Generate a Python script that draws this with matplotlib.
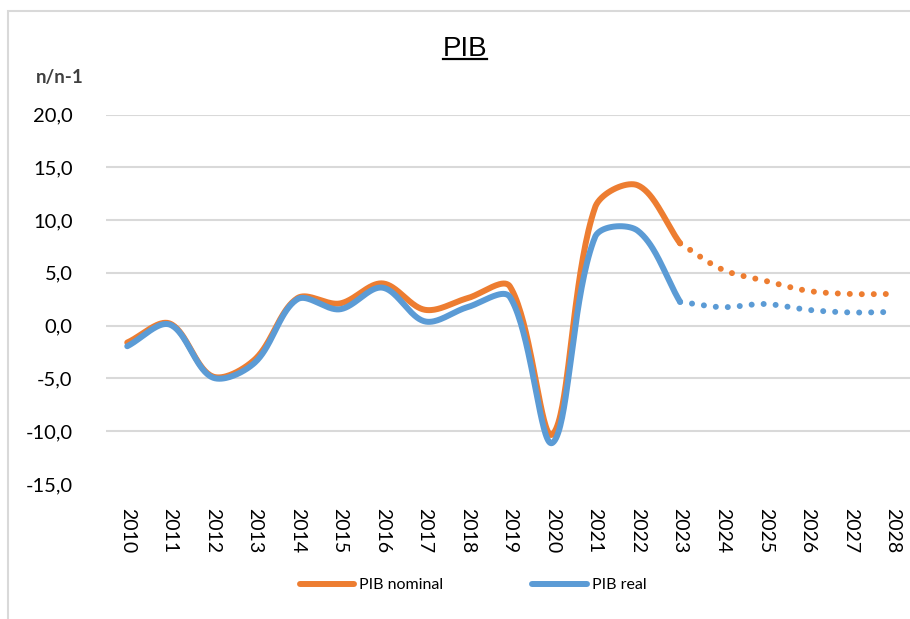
import numpy as np
import matplotlib
matplotlib.use('Agg')
import matplotlib.pyplot as plt
from matplotlib.lines import Line2D
from matplotlib.patches import Rectangle

# values (growth n/n-1, %)
years = list(range(2010, 2029))
hist_years = years[:14]          # 2010 - 2023, solid
proj_years = years[13:]          # 2023 - 2028, dotted
nominal_hist = [-1.6, 0.2, -4.8, -3.2, 2.6, 2.1, 4.0, 1.5, 2.6, 3.7, -10.3, 11.2, 13.3, 7.8]
real_hist = [-1.95, 0.1, -4.9, -3.5, 2.5, 1.55, 3.6, 0.4, 1.75, 2.7, -11.1, 8.4, 9.0, 2.25]
nominal_proj = [7.8, 5.3, 4.25, 3.3, 3.0, 3.0]
real_proj = [2.25, 1.75, 2.05, 1.5, 1.25, 1.3]
y_ticks = [-15, -10, -5, 0, 5, 10, 15, 20]

ORANGE = '#ED7D31'
BLUE = '#5B9BD5'
GRID = '#D9D9D9'

plt.rcParams['font.family'] = ['Lato', 'DejaVu Sans']

W, H = 910, 619
fig = plt.figure(figsize=(W / 100, H / 100), dpi=100)
ax = fig.add_axes([106 / W, 1 - 484 / H, 808 / W, (484 - 114.5) / H])
ax.set_xlim(years[0] - 0.5, years[-1] + 0.5)
ax.set_ylim(-15, 20)


def smooth(xs, ys, n=40):
    # Excel-like smoothed line: Bezier segments, control arms scaled by chord length (screen space)
    pts = ax.transData.transform(np.column_stack([xs, ys]))
    N = len(pts)
    t = np.linspace(0, 1, n)[:, None]
    out = []
    for i in range(N - 1):
        p0 = pts[i - 1] if i > 0 else pts[i]
        p1, p2 = pts[i], pts[i + 1]
        p3 = pts[i + 2] if i + 2 < N else pts[i + 1]
        d01 = np.linalg.norm(p1 - p0)
        d12 = np.linalg.norm(p2 - p1)
        d23 = np.linalg.norm(p3 - p2)
        c1 = p1 + (p2 - p0) * d12 / (d01 + d12) / 3
        c2 = p2 - (p3 - p1) * d12 / (d12 + d23) / 3
        seg = ((1 - t) ** 3) * p1 + 3 * ((1 - t) ** 2) * t * c1 + 3 * (1 - t) * t ** 2 * c2 + t ** 3 * p2
        out.append(seg if i == 0 else seg[1:])
    curve = ax.transData.inverted().transform(np.vstack(out))
    return curve[:, 0], curve[:, 1]


lw = 4.3
dots = (0, (0.01, 2.0))
for yrs_h, vals_h, vals_p, col in [(hist_years, nominal_hist, nominal_proj, ORANGE),
                                   (hist_years, real_hist, real_proj, BLUE)]:
    sx, sy = smooth(yrs_h, vals_h)
    ax.plot(sx, sy, color=col, lw=lw, solid_capstyle='round', solid_joinstyle='round')
    px, py = smooth(proj_years, vals_p)
    ax.plot(px, py, color=col, lw=lw, linestyle=dots, dash_capstyle='round')

# axes styling
for s in ax.spines.values():
    s.set_visible(False)
ax.set_yticks(y_ticks)
ax.set_yticklabels([f"{v:.1f}".replace('.', ',') for v in y_ticks], fontsize=14.5)
ax.set_xticks(years)
ax.set_xticklabels([str(y) for y in years], rotation=270, fontsize=14)
ax.tick_params(axis='y', length=0, pad=24)
ax.tick_params(axis='x', length=0, pad=17)
ax.yaxis.grid(True, color=GRID, lw=1.5)
ax.set_axisbelow(True)
ax.yaxis.get_gridlines()[0].set_visible(False)

# title with underline
title = fig.text(465 / W, 1 - 56 / H, 'PIB', fontsize=20, ha='center', va='baseline',
                 family='Liberation Sans')
fig.canvas.draw()
bb = title.get_window_extent(fig.canvas.get_renderer())
fig.add_artist(Line2D([bb.x0 / W, bb.x1 / W], [1 - 59 / H, 1 - 59 / H], color='black', lw=1.6))

fig.text(60 / W, 1 - 78 / H, 'n/n-1', fontsize=13.5, fontweight='bold', ha='center', va='center',
         color='#404040')

# legend
handles = [Line2D([], [], color=ORANGE, lw=lw, solid_capstyle='round'),
           Line2D([], [], color=BLUE, lw=lw, solid_capstyle='round')]
fig.legend(handles, ['PIB nominal', 'PIB real'], loc='center', bbox_to_anchor=(473 / W, 1 - 585 / H),
           ncol=2, frameon=False, fontsize=11.5, handlelength=3.4, handletextpad=0.3, columnspacing=5.6)

# chart area border
fig.add_artist(Rectangle((7.5 / W, -0.05), 1.1, 1 - 10.5 / H + 0.05, transform=fig.transFigure,
                         fill=False, edgecolor=GRID, lw=1.5))

fig.savefig('out.png', dpi=100)
